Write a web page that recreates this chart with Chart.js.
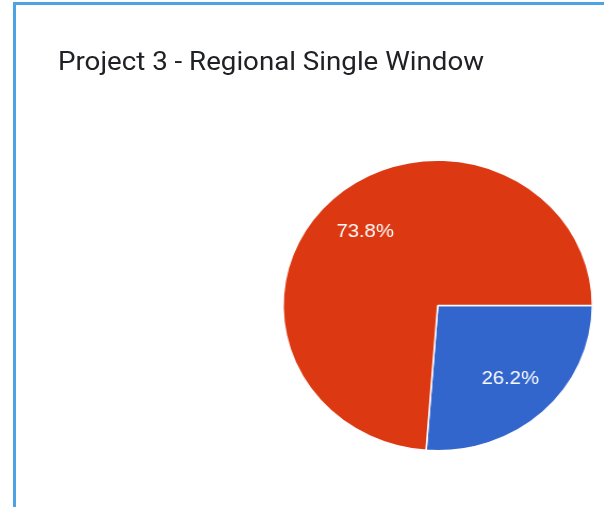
<!DOCTYPE html>
<html>
<head>
<meta charset="utf-8">
<script src="https://cdn.jsdelivr.net/npm/chart.js@4.4.1/dist/chart.umd.min.js"></script>
<style>
  html, body { margin: 0; padding: 0; background: #ffffff; }
  body { width: 604px; height: 507px; position: relative; overflow: hidden; }
  #frame { position: absolute; left: 13px; top: 2px; width: 620px; height: 540px;
           border-left: 3px solid #4da3e4; border-top: 3px solid #4da3e4; box-sizing: border-box; }
  #stage { position: absolute; left: 0; top: 0; width: 567px; height: 507px;
           transform: scaleX(1.065); transform-origin: 0 0; }
  #title { position: absolute; left: 54.5px; top: 45.5px; font-family: Roboto, "Noto Sans", sans-serif;
           font-size: 26px; color: #202124; white-space: nowrap; }
  #wrap { position: absolute; left: 0; top: 0; width: 567px; height: 507px; }
</style>
</head>
<body>
<div id="frame"></div>
<div id="stage">
  <div id="title">Project 3 - Regional Single Window</div>
  <div id="wrap"><canvas id="c"></canvas></div>
</div>
<script>
const categories = ["Yes", "No"];
const values = [26.2, 73.8];
const colors = ["#3366cc", "#dc3912"];

const labelPlugin = {
  id: 'sliceLabels',
  afterDatasetsDraw(chart) {
    const ctx = chart.ctx;
    const meta = chart.getDatasetMeta(0);
    const total = values.reduce((a, b) => a + b, 0);
    ctx.save();
    ctx.fillStyle = '#ffffff';
    ctx.font = '19px "Liberation Sans", Arial, sans-serif';
    ctx.textAlign = 'center';
    ctx.textBaseline = 'middle';
    meta.data.forEach((arc, i) => {
      const p = arc.getProps(['x', 'y', 'startAngle', 'endAngle', 'outerRadius'], true);
      const mid = (p.startAngle + p.endAngle) / 2;
      const r = p.outerRadius * 0.69;
      const x = p.x + Math.cos(mid) * r;
      const y = p.y + Math.sin(mid) * r;
      ctx.fillText((values[i] / total * 100).toFixed(1) + '%', x, y);
    });
    ctx.restore();
  }
};

new Chart(document.getElementById('c'), {
  type: 'pie',
  data: {
    labels: categories,
    datasets: [{
      data: values,
      backgroundColor: colors,
      borderColor: '#ffffff',
      borderWidth: 1.5
    }]
  },
  options: {
    responsive: true,
    maintainAspectRatio: false,
    animation: false,
    rotation: 90,
    layout: { padding: { left: 265, right: 10, top: 159, bottom: 55 } },
    plugins: {
      legend: { display: false },
      tooltip: { enabled: false },
      title: { display: false }
    }
  },
  plugins: [labelPlugin]
});
</script>
</body>
</html>
